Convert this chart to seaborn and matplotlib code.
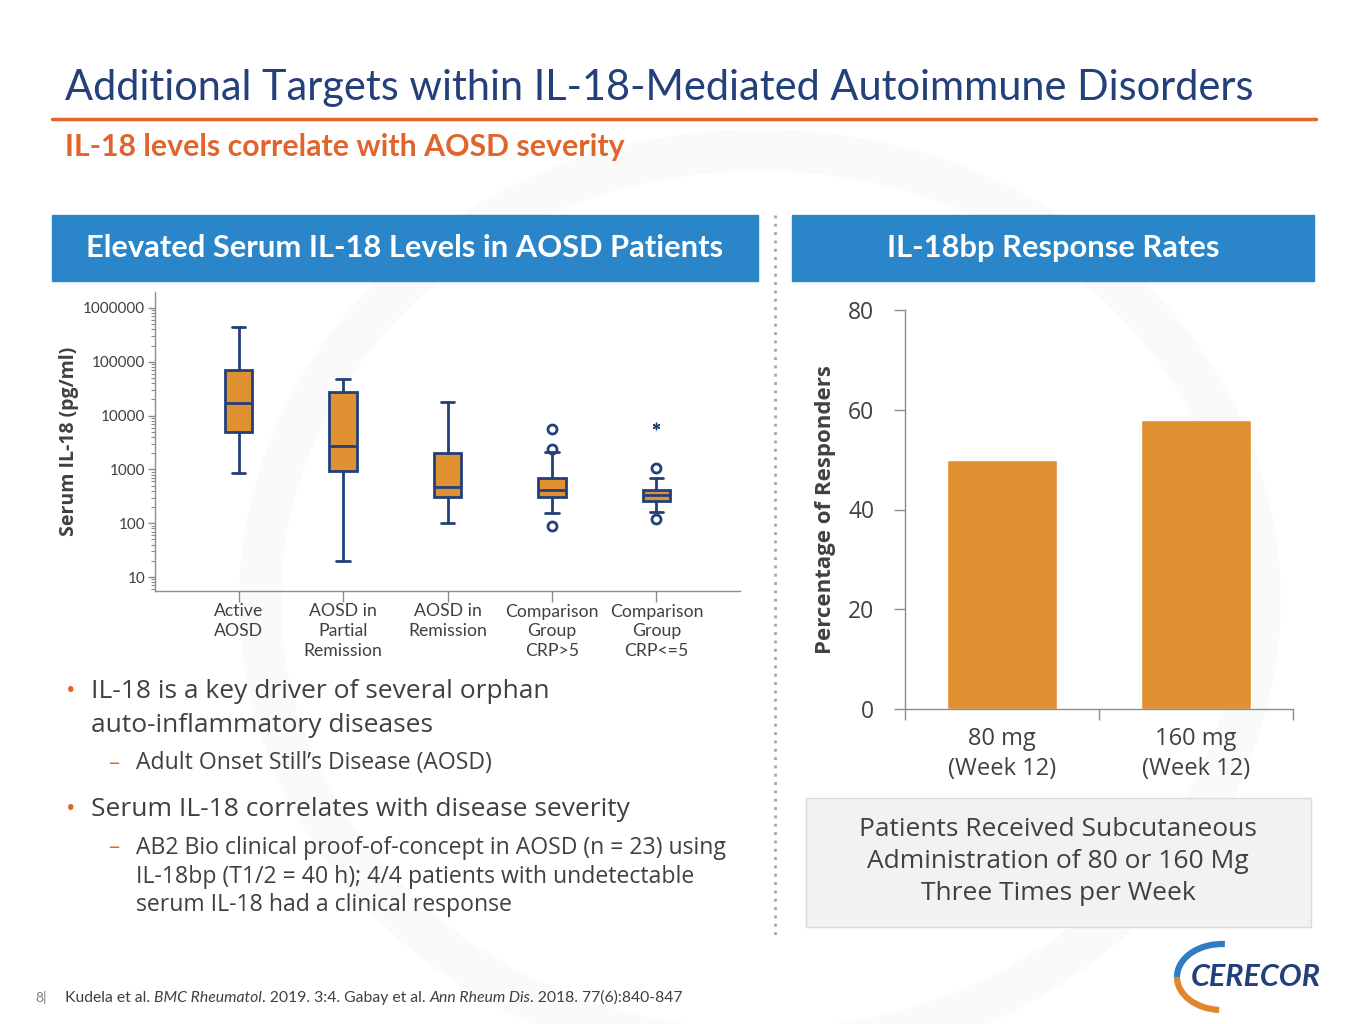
import matplotlib
matplotlib.use("Agg")
import matplotlib.pyplot as plt
from matplotlib.patches import Rectangle, Arc
import seaborn as sns
import pandas as pd

# 왼쪽 박스플롯 (Serum IL-18, pg/ml)
groups = ["Active\nAOSD", "AOSD in\nPartial\nRemission", "AOSD in\nRemission",
          "Comparison\nGroup\nCRP>5", "Comparison\nGroup\nCRP<=5"]
whis_low = [840, 20, 99, 155, 164]
q1 = [4970, 930, 312, 312, 263]
median = [16800, 2760, 480, 422, 336]
q3 = [70500, 27700, 2040, 697, 416]
whis_high = [435000, 47200, 18000, 2070, 706]
outliers = [[], [], [], [5570, 2430, 87], [1057, 119]]
extreme_group = ["Comparison\nGroup\nCRP<=5"]
extreme_value = [6340]

# 오른쪽 막대 (IL-18bp 반응률)
doses = ["80 mg\n(Week 12)", "160 mg\n(Week 12)"]
responders = [50, 58]

NAVY = "#23407A"
ORANGE = "#DF9132"
RED_OR = "#E0642C"
BLUE = "#2A85C9"
GREY_TXT = "#404040"
AXIS = "#8C8C8C"

sns.set_theme(style="white")
plt.rcParams["font.family"] = ["Open Sans", "DejaVu Sans"]
LATO = ["Lato", "DejaVu Sans"]

W, H = 1365, 1024
fig = plt.figure(figsize=(W / 100, H / 100), dpi=100)

# 배경용 축 (픽셀 좌표)
bg = fig.add_axes([0, 0, 1, 1], zorder=0)
bg.set_xlim(0, W)
bg.set_ylim(H, 0)
bg.axis("off")

# 희미한 워터마크 원
bg.add_patch(Arc((760, 600), 1000, 900, theta1=0, theta2=360, lw=30, color="#FAFAFA"))

# 제목
bg.text(65, 88, "Additional Targets within IL-18-Mediated Autoimmune Disorders",
        fontsize=29.9, color=NAVY, va="center", ha="left", family=LATO)
bg.plot([52, 1316], [119, 119], color=RED_OR, lw=2.5)
bg.text(65, 147, "IL-18 levels correlate with AOSD severity", fontsize=21.8,
        color=RED_OR, fontweight="bold", va="center", ha="left", family=LATO)

# 패널 헤더
bg.add_patch(Rectangle((52, 215), 706, 66, color=BLUE))
bg.add_patch(Rectangle((792, 215), 522, 66, color=BLUE))
bg.text(405, 248, "Elevated Serum IL-18 Levels in AOSD Patients", fontsize=22.2,
        color="white", fontweight="bold", ha="center", va="center", family=LATO)
bg.text(1053, 248, "IL-18bp Response Rates", fontsize=22.2,
        color="white", fontweight="bold", ha="center", va="center", family=LATO)

# 점선 구분선
bg.plot([775, 775], [215, 940], color="#A6A6A6", lw=2, ls=(0, (1, 2)))

# 글머리 기호 텍스트
bg.text(66, 692, "•", fontsize=18, color=RED_OR, va="center")
bg.text(91, 692, "IL-18 is a key driver of several orphan", fontsize=19, color=GREY_TXT, va="center")
bg.text(91, 725, "auto-inflammatory diseases", fontsize=19, color=GREY_TXT, va="center")
bg.text(108, 763, "–", fontsize=16, color=RED_OR, va="center")
bg.text(136, 763, "Adult Onset Still’s Disease (AOSD)", fontsize=16.6, color=GREY_TXT, va="center")
bg.text(66, 809, "•", fontsize=18, color=RED_OR, va="center")
bg.text(91, 809, "Serum IL-18 correlates with disease severity", fontsize=19, color=GREY_TXT, va="center")
bg.text(108, 848, "–", fontsize=16, color=RED_OR, va="center")
for yy, line in zip([848, 877, 905],
                    ["AB2 Bio clinical proof-of-concept in AOSD (n = 23) using",
                     "IL-18bp (T1/2 = 40 h); 4/4 patients with undetectable",
                     "serum IL-18 had a clinical response"]):
    bg.text(136, yy, line, fontsize=16.6, color=GREY_TXT, va="center")

# 회색 안내 박스
bg.add_patch(Rectangle((806, 798), 505, 129, facecolor="#F2F2F2", edgecolor="#D9D9D9", lw=1))
for yy, line in zip([829, 862, 894],
                    ["Patients Received Subcutaneous",
                     "Administration of 80 or 160 Mg",
                     "Three Times per Week"]):
    bg.text(1058, yy, line, fontsize=19, color=GREY_TXT, va="center", ha="center")

# 각주
bg.text(35, 997, "8|", fontsize=10, color="#7F7F7F", va="center", family=LATO)
pieces = [("Kudela et al. ", "normal"), ("BMC Rheumatol", "italic"), (". 2019. 3:4. Gabay et al. ", "normal"),
          ("Ann Rheum Dis", "italic"), (". 2018. 77(6):840-847", "normal")]
prev = bg.text(65, 998, pieces[0][0], fontsize=11.3, color=GREY_TXT, va="center", family=LATO)
for txt, st in pieces[1:]:
    prev = bg.annotate(txt, xy=(1, 0), xycoords=prev, va="bottom", ha="left", fontsize=11.3,
                       color=GREY_TXT, style=st, family=LATO)

# 로고
bg.add_patch(Arc((1222, 977), 90, 66, theta1=180, theta2=275, lw=4.5, color="#2E7DC3"))
bg.add_patch(Arc((1222, 977), 90, 66, theta1=95, theta2=180, lw=4.5, color="#E0872C"))
bg.text(1256, 977, "CERECOR", fontsize=22, color=NAVY, fontweight="bold", style="italic",
        ha="center", va="center", family=LATO)

# ---------------- 박스플롯 ----------------
ax1 = fig.add_axes([155 / W, 1 - 591 / H, 585 / W, 299 / H], zorder=2)
ax1.patch.set_alpha(0)
stats = []
for i, g in enumerate(groups):
    stats.append({"label": g, "whislo": whis_low[i], "q1": q1[i], "med": median[i],
                  "q3": q3[i], "whishi": whis_high[i], "fliers": outliers[i]})
ax1.bxp(stats, positions=range(len(groups)), widths=0.26, patch_artist=True,
        boxprops=dict(facecolor=ORANGE, edgecolor=NAVY, lw=2),
        medianprops=dict(color=NAVY, lw=2),
        whiskerprops=dict(color=NAVY, lw=2),
        capprops=dict(color=NAVY, lw=2),
        capwidths=0.13,
        flierprops=dict(marker="o", markerfacecolor="none", markeredgecolor=NAVY,
                        markersize=6.5, markeredgewidth=2))
star_df = pd.DataFrame({"pos": [groups.index(g) for g in extreme_group], "val": extreme_value})
sns.scatterplot(data=star_df, x="pos", y="val", marker=(6, 2, 0), s=22, color=NAVY,
                linewidth=1, ax=ax1, legend=False)
ax1.set_yscale("log")
ax1.set_ylim(5.5, 1.98e6)
ax1.set_xlim(-0.8, 4.8)
ax1.set_xticks(range(len(groups)))
ax1.set_xticklabels(groups, fontsize=12.7, color=GREY_TXT, linespacing=1.3, family=LATO)
ax1.set_yticks([10, 100, 1000, 10000, 100000, 1000000])
ax1.set_yticklabels(["10", "100", "1000", "10000", "100000", "1000000"], fontsize=11,
                    color=GREY_TXT, family=LATO)
ax1.tick_params(axis="x", direction="out", length=8, width=1, color=AXIS, pad=1, bottom=True)
ax1.tick_params(axis="y", which="major", direction="out", length=5, width=1, color=AXIS, pad=2, left=True)
ax1.tick_params(axis="y", which="minor", direction="out", length=3, width=0.8, color=AXIS, left=True)
ax1.set_xlabel("")
ax1.set_ylabel("Serum IL-18 (pg/ml)", fontsize=14, fontweight="bold", color=GREY_TXT, labelpad=3)
for s in ["top", "right"]:
    ax1.spines[s].set_visible(False)
for s in ["left", "bottom"]:
    ax1.spines[s].set_color(AXIS)
    ax1.spines[s].set_linewidth(1)

# ---------------- 막대그래프 ----------------
ax2 = fig.add_axes([905 / W, 1 - 709 / H, 388 / W, 399 / H], zorder=2)
ax2.patch.set_alpha(0)
bar_df = pd.DataFrame({"dose": doses, "pct": responders})
sns.barplot(data=bar_df, x="dose", y="pct", color=ORANGE, saturation=1, width=0.57, ax=ax2)
ax2.set_xlim(-0.5, 1.5)
ax2.set_ylim(0, 80)
ax2.set_yticks([0, 20, 40, 60, 80])
ax2.set_yticklabels(["0", "20", "40", "60", "80"], fontsize=16.5, color=GREY_TXT)
ax2.set_xticks([-0.5, 0.5, 1.5])
ax2.set_xticklabels([])
ax2.set_xticks([0, 1], minor=True)
ax2.set_xticklabels(doses, minor=True, fontsize=17, color=GREY_TXT, linespacing=1.35)
ax2.tick_params(axis="x", which="major", direction="out", length=8, width=1, color=AXIS, bottom=True)
ax2.tick_params(axis="x", which="minor", length=0, pad=13, bottom=True)
ax2.tick_params(axis="y", direction="out", length=8, width=1, color=AXIS, pad=14, left=True)
ax2.set_xlabel("")
ax2.set_ylabel("Percentage of Responders", fontsize=16, fontweight="bold", color=GREY_TXT, labelpad=9)
for s in ["top", "right"]:
    ax2.spines[s].set_visible(False)
for s in ["left", "bottom"]:
    ax2.spines[s].set_color(AXIS)
    ax2.spines[s].set_linewidth(1)

fig.savefig("out.png", dpi=100)
